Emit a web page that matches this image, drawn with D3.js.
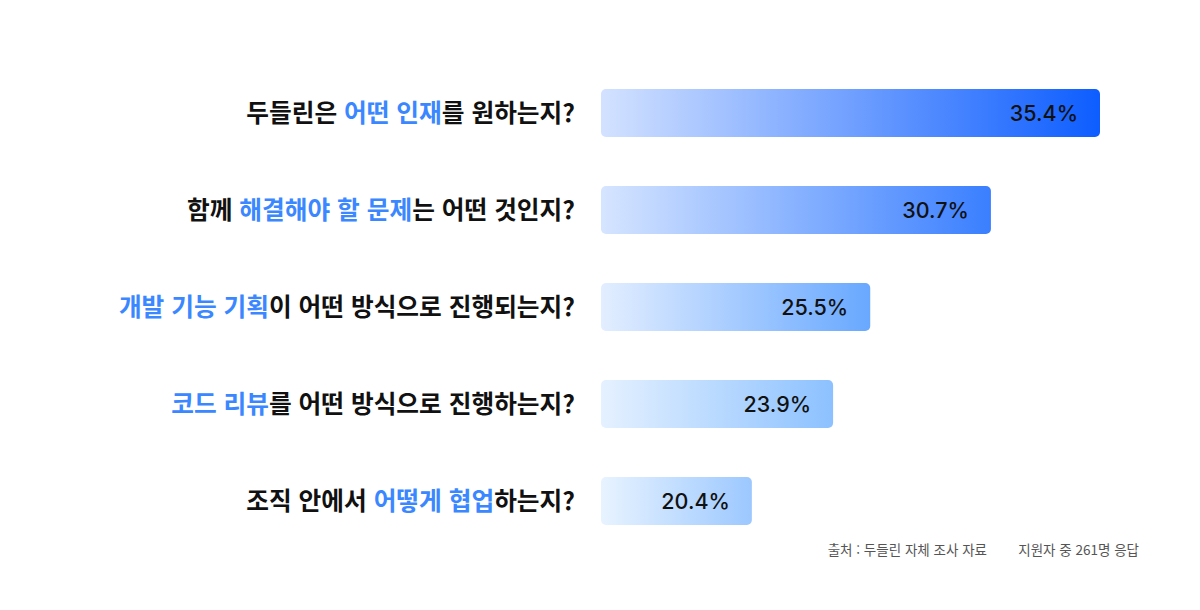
<!DOCTYPE html>
<html lang="ko">
<head>
<meta charset="utf-8">
<script src="https://cdn.jsdelivr.net/npm/d3@7"></script>
<style>
  html, body { margin: 0; padding: 0; background: #fff; }
  svg { display: block; font-family: "Noto Sans CJK KR", "Noto Sans", sans-serif; }
</style>
</head>
<body>
<svg id="chart" width="1200" height="610"></svg>
<script>
'use strict';

// questions, highlighted part inside [ ]
const questions = [
    '두들린은 [어떤 인재]를 원하는지?',
    '함께 [해결해야 할 문제]는 어떤 것인지?',
    '[개발 기능 기획]이 어떤 방식으로 진행되는지?',
    '[코드 리뷰]를 어떤 방식으로 진행하는지?',
    '조직 안에서 [어떻게 협업]하는지?'
];
const percents = [35.4, 30.7, 25.5, 23.9, 20.4];
const sourceNote = '출처 : 두들린 자체 조사 자료';
const sampleNote = '지원자 중 261명 응답';

// gradient stops for each bar (light -> dark)
const barColors = [
    ['#d3e2ff', '#0d5dff'],
    ['#d6e5ff', '#3a7fff'],
    ['#e3eeff', '#68a8ff'],
    ['#e5f1ff', '#8cc1ff'],
    ['#e8f3ff', '#9cc8ff']
];

const svg = d3.select('#chart');
const barLeft = 601;

const x = d3.scaleLinear()
    .domain([13.9, 35.4])
    .range([0, 499]);

const y = d3.scaleBand()
    .domain(d3.range(questions.length))
    .range([64.5, 549.5])
    .paddingInner(0.505)
    .paddingOuter(0.2525);

const defs = svg.append('defs');
barColors.forEach((c, i) => {
    let g = defs.append('linearGradient')
        .attr('id', 'grad' + i)
        .attr('x1', 0).attr('x2', 1).attr('y1', 0).attr('y2', 0);
    g.append('stop').attr('offset', 0).attr('stop-color', c[0]);
    g.append('stop').attr('offset', 1).attr('stop-color', c[1]);
});

// bars
svg.append('g')
    .selectAll('rect')
    .data(percents)
    .join('rect')
    .attr('x', barLeft)
    .attr('y', (d, i) => y(i))
    .attr('width', d => x(d))
    .attr('height', y.bandwidth())
    .attr('rx', 5)
    .attr('fill', (d, i) => 'url(#grad' + i + ')');

// value labels inside the bars
svg.append('g')
    .selectAll('text')
    .data(percents)
    .join('text')
    .attr('x', d => barLeft + x(d) - 22)
    .attr('y', (d, i) => y(i) + y.bandwidth() / 2)
    .attr('dy', '0.36em')
    .attr('text-anchor', 'end')
    .attr('font-family', 'Inter, "Noto Sans", sans-serif')
    .attr('font-size', 21.5)
    .attr('font-weight', 500)
    .attr('fill', '#111')
    .text(d => d.toFixed(1) + '%');

// question labels with highlighted words
function splitParts(s) {
    return s.split(/(\[[^\]]*\])/).filter(p => p.length).map(p => {
        if (p[0] === '[') return { text: p.slice(1, -1), hi: true };
        return { text: p, hi: false };
    });
}

svg.append('g')
    .selectAll('text')
    .data(questions)
    .join('text')
    .attr('x', 575)
    .attr('y', (d, i) => y(i) + y.bandwidth() / 2)
    .attr('dy', '0.36em')
    .attr('text-anchor', 'end')
    .attr('font-size', 24.7)
    .attr('font-weight', 600)
    .attr('fill', '#111')
    .style('white-space', 'pre')
    .selectAll('tspan')
    .data(d => splitParts(d))
    .join('tspan')
    .attr('fill', p => p.hi ? '#3a87ff' : '#111')
    .text(p => p.text);

// footnote
svg.append('text')
    .attr('x', 987)
    .attr('y', 555)
    .attr('text-anchor', 'end')
    .attr('font-size', 13.5)
    .attr('fill', '#555')
    .text(sourceNote);

svg.append('text')
    .attr('x', 1139)
    .attr('y', 555)
    .attr('text-anchor', 'end')
    .attr('font-size', 13.5)
    .attr('fill', '#555')
    .text(sampleNote);
</script>
</body>
</html>
